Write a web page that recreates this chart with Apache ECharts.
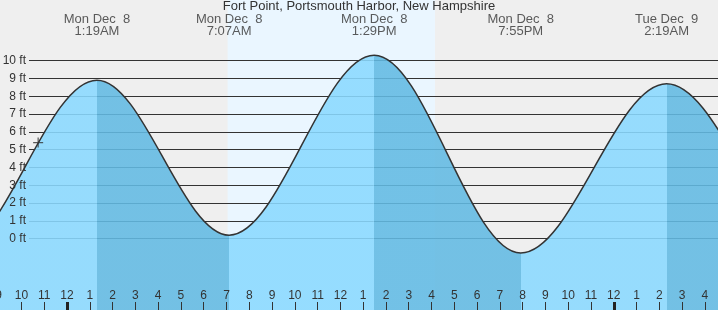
<!DOCTYPE html>
<html><head><meta charset="utf-8">
<script src="https://cdn.jsdelivr.net/npm/echarts@6/dist/echarts.min.js"></script>
<style>html,body{margin:0;padding:0;background:#efefef;overflow:hidden}#c{width:718px;height:310px}</style>
</head><body><div id="c"></div>
<script>
// ---------- data ----------
const TITLE = 'Fort Point, Portsmouth Harbor, New Hampshire';
const TIDE_TIMES = ['2025-12-07 12:44','2025-12-07 19:01','2025-12-08 01:19','2025-12-08 07:07','2025-12-08 13:29','2025-12-08 19:55','2025-12-09 02:19','2025-12-09 08:34','2025-12-09 14:52'];
const TIDE_FT    = [9.8, -0.8, 8.9, 0.2, 10.3, -0.8, 8.7, 0.0, 10.0];
const TIDE_KIND  = ['H','L','H','L','H','L','H','L','H'];
const LABEL_DAY  = [null,null,'Mon Dec  8','Mon Dec  8','Mon Dec  8','Mon Dec  8','Tue Dec  9',null,null];
const LABEL_TIME = [null,null,'1:19AM','7:07AM','1:29PM','7:55PM','2:19AM',null,null];
const SUNRISE = '2025-12-08 07:03';
const SUNSET  = '2025-12-08 16:09';
const NOW_TIME = '2025-12-07 22:44';
const NOW_FT = 5.4;
const MIDNIGHTS = ['2025-12-08 00:00','2025-12-09 00:00'];
const GRID_FT = [0, 10];

// ---------- helpers ----------
function hrs(s){ const [d,t]=s.split(' '); const day=+d.slice(8,10); const [h,m]=t.split(':').map(Number); return (day-8)*24 + h + m/60; }

// ---------- layout ----------
const W = 718, H = 310;
const Y_MIN = -4, Y_MAX = 13.4;
const X_MIN = -3, X_MAX = 29;
const PX_H = 22.783, X0 = 67;
const gridLeft = X0 + X_MIN*PX_H;
const gridRight = W - (X0 + X_MAX*PX_H);
const ftPx = H/(Y_MAX-Y_MIN);
const g1Top = (Y_MAX - GRID_FT[1])*ftPx;
const g1Bottom = (GRID_FT[0] - Y_MIN)*ftPx;
const LABEL_LEVEL = 11.97;
const FONT = 'Liberation Sans, Arial, sans-serif';
const LIGHT = '#8ad9ff', DARK = '#62bae3';

const tH = TIDE_TIMES.map(hrs);
const pieces = [];
for (let i=0;i<tH.length-1;i++) pieces.push({gte:tH[i], lt:tH[i+1], color: TIDE_KIND[i]==='H'?DARK:LIGHT});

const labelData = [];
tH.forEach((t,i)=>{ if (LABEL_DAY[i]) labelData.push({value:[t, LABEL_LEVEL], day:LABEL_DAY[i], time:LABEL_TIME[i]}); });

const chart = echarts.init(document.getElementById('c'), null, {renderer:'canvas'});
chart.setOption({
  animation:false,
  backgroundColor:'#efefef',
  title:{text:TITLE, left:'center', top:0, padding:0, textStyle:{fontSize:13, fontWeight:'normal', color:'#333', fontFamily:FONT}},
  grid:[
    {left:gridLeft, right:gridRight, top:0, bottom:0, containLabel:false, outerBoundsMode:'none'},
    {left:29, right:0, top:g1Top, bottom:g1Bottom, containLabel:false, outerBoundsMode:'none'}
  ],
  visualMap:{type:'piecewise', show:false, dimension:0, seriesIndex:0, pieces:pieces, outOfRange:{color:LIGHT}},
  xAxis:[
    {gridIndex:0, type:'value', min:X_MIN, max:X_MAX, interval:1, position:'bottom', z:6,
     axisLine:{show:false, onZero:false}, splitLine:{show:false},
     axisTick:{show:true, inside:true, length:8, lineStyle:{color:'#333', width:1}},
     axisLabel:{inside:true, margin:8, fontSize:12, color:'#333', fontFamily:FONT,
       formatter:v=>{const h=((Math.round(v)%12)+12)%12; return String(h===0?12:h);}}},
    {gridIndex:0, type:'value', min:X_MIN, max:X_MAX, position:'bottom', z:6,
     axisLine:{show:false, onZero:false}, splitLine:{show:false}, axisLabel:{show:false},
     axisTick:{show:true, inside:true, length:8, customValues:MIDNIGHTS.map(hrs), lineStyle:{color:'#222', width:3}}},
    {gridIndex:1, type:'value', min:X_MIN, max:X_MAX, show:false}
  ],
  yAxis:[
    {gridIndex:0, type:'value', min:Y_MIN, max:Y_MAX, show:false},
    {gridIndex:1, type:'value', min:GRID_FT[0], max:GRID_FT[1], interval:1, z:2,
     axisLine:{show:false}, axisTick:{show:false}, axisLabel:{show:false},
     splitLine:{show:true, lineStyle:{color:'#333', width:1}}},
    {gridIndex:1, type:'value', min:GRID_FT[0], max:GRID_FT[1], interval:1, position:'left', z:6,
     axisLine:{show:false}, axisTick:{show:false}, splitLine:{show:false},
     axisLabel:{formatter:'{value} ft', fontSize:12, color:'#333', margin:3, fontFamily:FONT}}
  ],
  series:[
    {type:'line', xAxisIndex:0, yAxisIndex:0, z:4,
     data:tH.map((t,i)=>[t, TIDE_FT[i]]),
     smooth:0.35, smoothMonotone:'x', showSymbol:false, symbol:'none',
     lineStyle:{color:'#333', width:1.5},
     areaStyle:{opacity:0.88, origin:'start'},
     markArea:{silent:true, itemStyle:{color:'#eaf6ff'}, data:[[{xAxis:hrs(SUNRISE)},{xAxis:hrs(SUNSET)}]]}},
    {type:'scatter', xAxisIndex:0, yAxisIndex:0, z:6, symbolSize:1, itemStyle:{color:'rgba(0,0,0,0)'},
     data:labelData,
     label:{show:true, position:'inside', fontSize:13, lineHeight:12, color:'#333', fontFamily:FONT,
       formatter:p=>p.data.day+'\n'+p.data.time}},
    {type:'scatter', xAxisIndex:0, yAxisIndex:0, z:6, symbol:'path://M0,4.4H10V5.6H0Z M4.4,0H5.6V10H4.4Z', symbolSize:10,
     itemStyle:{color:'#333'}, data:[[hrs(NOW_TIME), NOW_FT]]}
  ]
});
</script></body></html>
